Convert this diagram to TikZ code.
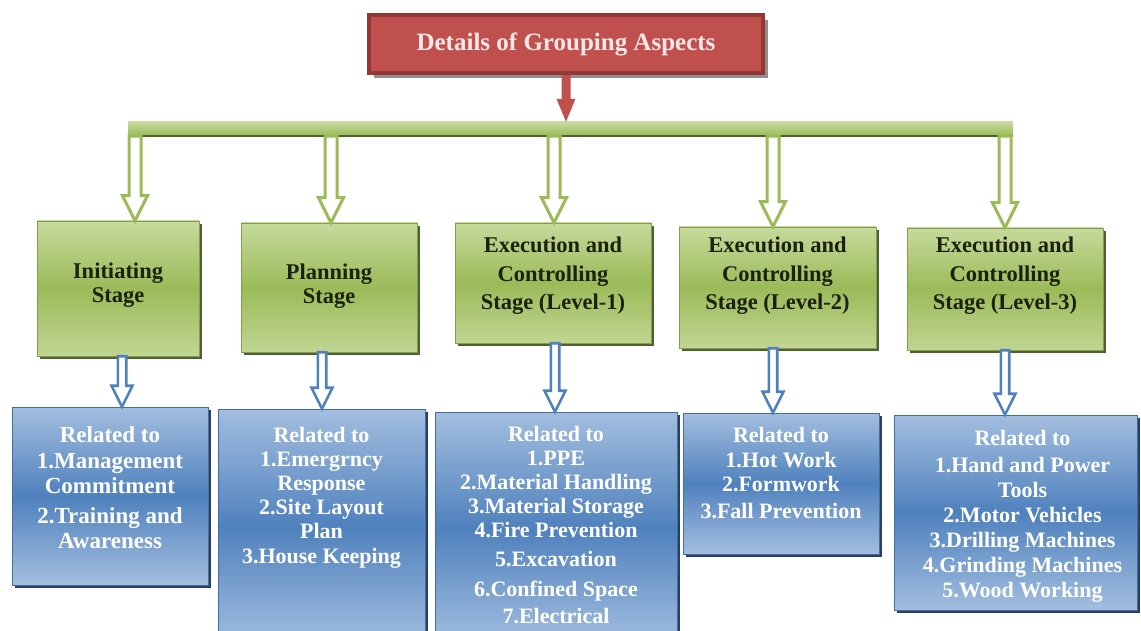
\documentclass[tikz,border=0pt]{standalone}
\usepackage{fontspec}
\setmainfont{Liberation Serif}
\usetikzlibrary{calc,shadows}
\definecolor{tred}{HTML}{C0504D}
\definecolor{tredd}{HTML}{943634}
\definecolor{titletext}{HTML}{F7E8E8}
\definecolor{gmid}{HTML}{9BBB59}
\definecolor{glight}{HTML}{C6DA9C}
\definecolor{gdark}{HTML}{4F6228}
\definecolor{bmid}{HTML}{4F81BD}
\definecolor{blight}{HTML}{A3BEDF}
\definecolor{bdark}{HTML}{1F3558}
\definecolor{gtext}{HTML}{1C220F}
\tikzset{
  x=1pt, y=-1pt,
  titlebox/.style={rectangle, inner sep=0pt, fill=tred, draw=tredd, line width=4pt,
    drop shadow={shadow xshift=5pt, shadow yshift=-5pt, fill=black!55, opacity=0.8},
    text=titletext, font=\bfseries\fontsize{25}{28}\selectfont},
  gbarstyle/.style={rectangle, inner sep=0pt, top color=glight, bottom color=gmid, draw=none},
  gbox/.style={rectangle, inner sep=0pt, top color=glight, bottom color=glight!85!gmid, middle color=gmid,
    draw=gmid!85!black, line width=0.5pt,
    drop shadow={shadow xshift=3pt, shadow yshift=-3pt, fill=gdark!80!black, opacity=0.9}},
  gtxt/.style={inner sep=0pt, align=center, text=gtext, font=\bfseries\fontsize{22.5}{24}\selectfont},
  gtxtb/.style={gtxt, font=\bfseries\fontsize{22.5}{28.5}\selectfont},
  bbox/.style={rectangle, inner sep=0pt, top color=blight, bottom color=blight, middle color=bmid,
    draw=bmid!85!black, line width=0.5pt,
    drop shadow={shadow xshift=3pt, shadow yshift=-3pt, fill=bdark, opacity=0.95}},
  btext/.style={anchor=north, inner sep=0pt, align=center, text=white,
    font=\bfseries\fontsize{22}{24}\selectfont},
  hollow/.style n args={3}{to path={let \p1=(\tikztostart),\p2=(\tikztotarget) in
    ({\x1-#1},\y1) -- ({\x1-#1},{\y2+#3}) -- ({\x1-#2},{\y2+#3}) -- (\x1,\y2)
    -- ({\x1+#2},{\y2+#3}) -- ({\x1+#1},{\y2+#3}) -- ({\x1+#1},\y1) -- cycle}},
  garrow/.style={draw=gmid, fill=white, line width=3pt, line join=miter, hollow={6pt}{12.5pt}{25pt}},
  barrow/.style={draw=bmid, fill=white, line width=2.6pt, line join=miter, hollow={4.2pt}{10.5pt}{21pt}},
  rarrow/.style={fill=tred, draw=none, hollow={4.5pt}{9.5pt}{23pt}},
}
\begin{document}
\begin{tikzpicture}
\useasboundingbox (0,0) rectangle (1141,631);
\fill[white] (0,0) rectangle (1141,631);

% title and bar
\node[titlebox, minimum width=394pt, minimum height=58pt] (title) at (566,44) {Details of Grouping Aspects};
\node[gbarstyle, minimum width=885pt, minimum height=14pt] (bar) at (570.5,129) {};
\draw[gdark, line width=2.5pt] (bar.south west) -- (bar.south east);

% arrow positions
\coordinate (ga1) at (135,0);
\coordinate (ga2) at (331,0);
\coordinate (ga3) at (554,0);
\coordinate (ga4) at (773,0);
\coordinate (ga5) at (1005,0);
\coordinate (ba1) at (122,0);
\coordinate (ba2) at (322,0);
\coordinate (ba3) at (555,0);
\coordinate (ba4) at (773,0);
\coordinate (ba5) at (1005,0);

% green stage boxes
\node[gbox, minimum width=162pt, minimum height=135pt] (g1) at (118,288.5) {};
\node[gbox, minimum width=176pt, minimum height=129pt] (g2) at (329,287.5) {};
\node[gbox, minimum width=196pt, minimum height=120pt] (g3) at (553,283) {};
\node[gbox, minimum width=197pt, minimum height=121pt] (g4) at (777.5,287.5) {};
\node[gbox, minimum width=196pt, minimum height=122pt] (g5) at (1005,289) {};
\node[gtxt] (g1t) at ([yshift=3.5pt]g1.center) {Initiating\\Stage};
\node[gtxt] (g2t) at ([yshift=1.5pt]g2.center) {Planning\\Stage};
\node[gtxtb] (g3t) at ([yshift=7pt]g3.center) {Execution and\\Controlling\\Stage (Level-1)};
\node[gtxtb] (g4t) at ([yshift=11.5pt]g4.center) {Execution and\\Controlling\\Stage (Level-2)};
\node[gtxtb] (g5t) at ([yshift=13pt]g5.center) {Execution and\\Controlling\\Stage (Level-3)};

% blue boxes
\node[bbox, minimum width=196pt, minimum height=178pt] (b1) at (110,496) {};
\node[bbox, minimum width=207pt, minimum height=236pt] (b2) at (321.5,527) {};
\node[bbox, minimum width=242pt, minimum height=233pt] (b3) at (556,528.5) {};
\node[bbox, minimum width=196pt, minimum height=141pt] (b4) at (781,483.5) {};
\node[bbox, minimum width=243pt, minimum height=195pt] (b5) at (1015.5,512.5) {};

\node[btext, font=\bfseries\fontsize{23}{25.5}\selectfont] (t1) at ([yshift=-20pt]b1.north) {Related to\\1.Management\\Commitment\\[4pt]2.Training and\\Awareness};
\node[btext] (t2) at ([yshift=-18pt]b2.north) {Related to\\1.Emergrncy\\Response\\2.Site Layout\\Plan\\[1pt]3.House Keeping};
\node[btext] (t3) at ([yshift=-14pt]b3.north) {Related to\\1.PPE\\2.Material Handling\\3.Material Storage\\4.Fire Prevention\\[5pt]5.Excavation\\[6pt]6.Confined Space\\[3pt]7.Electrical};
\node[btext] (t4) at ([yshift=-14pt]b4.north) {Related to\\[1pt]1.Hot Work\\2.Formwork\\[3pt]3.Fall Prevention};
\node[btext, font=\bfseries\fontsize{22}{25}\selectfont] (t5) at ([xshift=7pt, yshift=-15pt]b5.north) {Related to\\[2pt]1.Hand and Power\\Tools\\2.Motor Vehicles\\3.Drilling Machines\\4.Grinding Machines\\5.Wood Working};

% connectors
\draw[rarrow] (title.south) to (bar.north);
\foreach \i in {1,...,5}{
  \draw[garrow] (bar.south -| ga\i) to (ga\i |- g\i.north);
  \draw[barrow] (ba\i |- g\i.south) to (ba\i |- b\i.north);
}
\end{tikzpicture}
\end{document}
